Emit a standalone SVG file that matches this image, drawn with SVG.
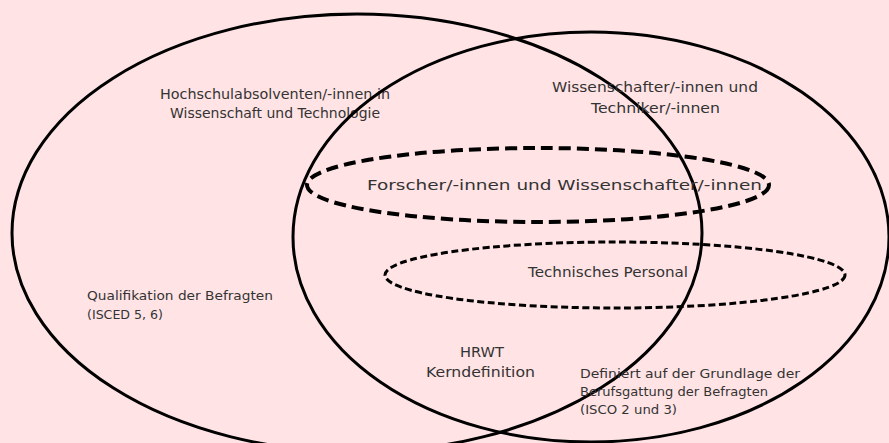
<svg xmlns="http://www.w3.org/2000/svg" width="889" height="443" viewBox="0 0 889 443">
<style>
.bg{fill:#FFE3E5}
.big{fill:none;stroke:#000;stroke-width:3}
.d1{fill:none;stroke:#000;stroke-width:4;stroke-dasharray:12 6}
.d2{fill:none;stroke:#000;stroke-width:3;stroke-dasharray:7 3.5}
text{font-family:"DejaVu Sans","Liberation Sans",sans-serif;fill:#333}
.l{font-size:14.5px}
.s{font-size:12.5px}
</style>
<rect class="bg" x="0" y="0" width="889" height="443"/>
<g id="hochschul">
<ellipse class="big" cx="357" cy="233" rx="345" ry="219"/>
<text class="l" x="160" y="99" textLength="230" lengthAdjust="spacingAndGlyphs">Hochschulabsolventen/-innen in</text>
<text class="l" x="170" y="118" textLength="210" lengthAdjust="spacingAndGlyphs">Wissenschaft und Technologie</text>
<text class="s" x="87" y="300" textLength="186" lengthAdjust="spacingAndGlyphs">Qualifikation der Befragten</text>
<text class="s" x="87" y="319" textLength="76" lengthAdjust="spacingAndGlyphs">(ISCED 5, 6)</text>
</g>
<g id="wissenschafter">
<ellipse class="big" cx="591" cy="237" rx="298" ry="205"/>
<text class="l" x="552" y="92" textLength="206" lengthAdjust="spacingAndGlyphs">Wissenschafter/-innen und</text>
<text class="l" x="591" y="113" textLength="129" lengthAdjust="spacingAndGlyphs">Techniker/-innen</text>
<text class="s" x="580" y="378" textLength="220" lengthAdjust="spacingAndGlyphs">Definiert auf der Grundlage der</text>
<text class="s" x="580" y="396" textLength="188" lengthAdjust="spacingAndGlyphs">Berufsgattung der Befragten</text>
<text class="s" x="580" y="414" textLength="97" lengthAdjust="spacingAndGlyphs">(ISCO 2 und 3)</text>
</g>
<g id="forscher">
<ellipse class="d1" cx="538" cy="185" rx="231" ry="37"/>
<text class="l" x="367" y="190" textLength="395" lengthAdjust="spacingAndGlyphs">Forscher/-innen und Wissenschafter/-innen</text>
</g>
<g id="technisches">
<ellipse class="d2" cx="615" cy="275" rx="230" ry="33"/>
<text class="l" x="528" y="277" textLength="160" lengthAdjust="spacingAndGlyphs">Technisches Personal</text>
</g>
<g id="hrwt">
<text class="l" x="460" y="357" textLength="44" lengthAdjust="spacingAndGlyphs">HRWT</text>
<text class="l" x="426" y="377" textLength="109" lengthAdjust="spacingAndGlyphs">Kerndefinition</text>
</g>
<g id="connectors"></g>
</svg>
